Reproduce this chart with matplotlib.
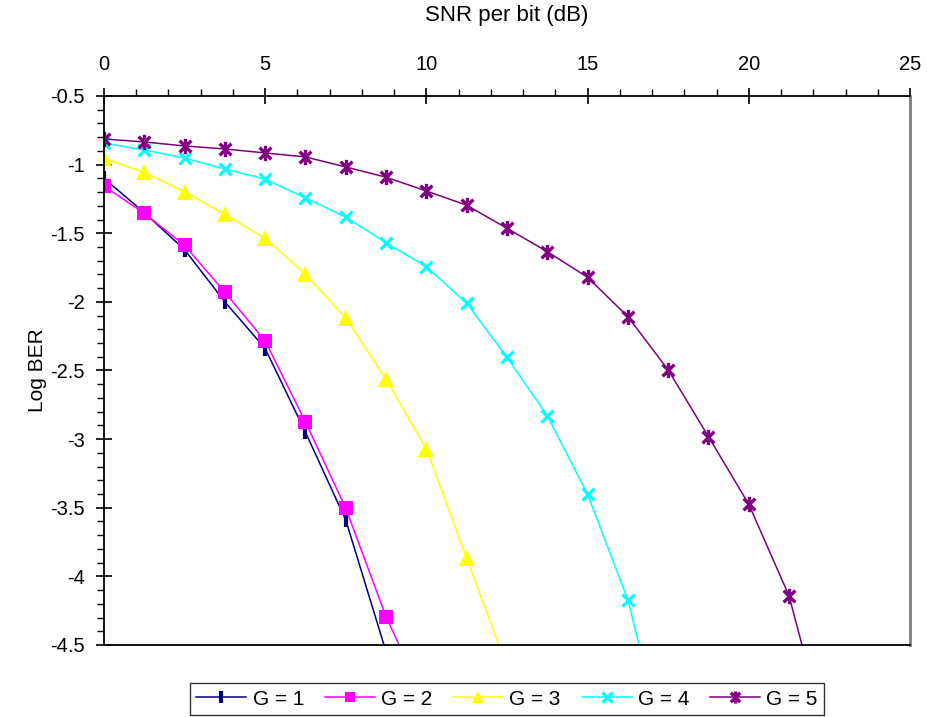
import matplotlib
matplotlib.use("Agg")
import matplotlib.pyplot as plt
from matplotlib.path import Path
from matplotlib.ticker import MultipleLocator

plt.rcParams['font.family'] = ['Liberation Sans', 'DejaVu Sans']

# SNR per bit (dB), one point every 1.25 dB
snr = [0, 1.25, 2.5, 3.75, 5, 6.25, 7.5, 8.75, 10, 11.25, 12.5, 13.75, 15,
       16.25, 17.5, 18.75, 20, 21.25, 22.5]

# log10 of bit error rate for each diversity order G
ber_g1 = [-1.10, -1.35, -1.62, -2.00, -2.34, -2.95, -3.59, -4.55, -5.40]
ber_g2 = [-1.156, -1.355, -1.588, -1.930, -2.285, -2.875, -3.504, -4.294, -4.93]
ber_g3 = [-0.954, -1.056, -1.197, -1.362, -1.537, -1.797, -2.118, -2.564,
          -3.072, -3.868, -4.66]
ber_g4 = [-0.842, -0.893, -0.952, -1.032, -1.105, -1.243, -1.382, -1.569,
          -1.744, -2.010, -2.404, -2.829, -3.402, -4.172, -5.35]
ber_g5 = [-0.813, -0.835, -0.864, -0.886, -0.915, -0.944, -1.017, -1.092,
          -1.192, -1.296, -1.464, -1.634, -1.821, -2.108, -2.496, -2.982,
          -3.475, -4.143, -5.26]

labels = ['G = 1', 'G = 2', 'G = 3', 'G = 4', 'G = 5']
colors = ['#000080', '#FF00FF', '#FFFF00', '#00FFFF', '#800080']
ytick_vals = [-0.5, -1, -1.5, -2, -2.5, -3, -3.5, -4, -4.5]
ytick_text = ['-0.5', '-1', '-1.5', '-2', '-2.5', '-3', '-3.5', '-4', '-4.5']

# star marker: an x with a vertical bar through it
star = Path([(-1, -1), (1, 1), (-1, 1), (1, -1), (0, -1.3), (0, 1.3)],
            [Path.MOVETO, Path.LINETO, Path.MOVETO, Path.LINETO,
             Path.MOVETO, Path.LINETO])

fig = plt.figure(figsize=(9.28, 7.17), dpi=100)
ax = fig.add_axes([104 / 928, 72 / 717, 806 / 928, 549 / 717])

series = [ber_g1, ber_g2, ber_g3, ber_g4, ber_g5]
styles = [dict(marker='|', ms=10, mew=3),
          dict(marker='s', ms=9.5, mew=0),
          dict(marker='^', ms=11, mew=0),
          dict(marker='x', ms=9, mew=2.3),
          dict(marker=star, ms=11, mew=2.4)]
for ys, lab, c, st in zip(series, labels, colors, styles):
    ax.plot(snr[:len(ys)], ys, color=c, lw=1.1, label=lab,
            mfc=c, mec=c, **st)

ax.set_xlim(0, 25)
ax.set_ylim(-4.5, -0.5)

ax.xaxis.set_major_locator(MultipleLocator(5))
ax.xaxis.set_minor_locator(MultipleLocator(1))
ax.set_yticks(ytick_vals)
ax.set_yticklabels(ytick_text)
ax.yaxis.set_minor_locator(MultipleLocator(0.1))

ax.xaxis.tick_top()
ax.xaxis.set_label_position('top')
ax.tick_params(axis='both', which='major', direction='inout', length=12,
               width=1.2, labelsize=14.5)
ax.tick_params(axis='x', which='major', pad=10)
ax.tick_params(axis='y', which='major', pad=8)
ax.tick_params(axis='both', which='minor', direction='out', length=5, width=1)
ax.tick_params(axis='x', which='both', bottom=False)
ax.tick_params(axis='y', which='both', right=False)

for side in ['top', 'left', 'bottom']:
    ax.spines[side].set_color('black')
    ax.spines[side].set_linewidth(1.3)
ax.spines['right'].set_color('#808080')
ax.spines['right'].set_linewidth(2)

ax.set_xlabel('SNR per bit (dB)', fontsize=16, labelpad=24)
ax.set_ylabel('Log BER', fontsize=15, labelpad=2)

leg = ax.legend(loc='upper center', bbox_to_anchor=(0.5, -0.07), ncol=5,
                fontsize=15, frameon=True, fancybox=False, edgecolor='black',
                handlelength=2.4, handletextpad=0.3, columnspacing=1.0,
                borderpad=0.3, borderaxespad=0, markerscale=0.8)
leg.get_frame().set_linewidth(1)

fig.savefig('out.png', dpi=100)
